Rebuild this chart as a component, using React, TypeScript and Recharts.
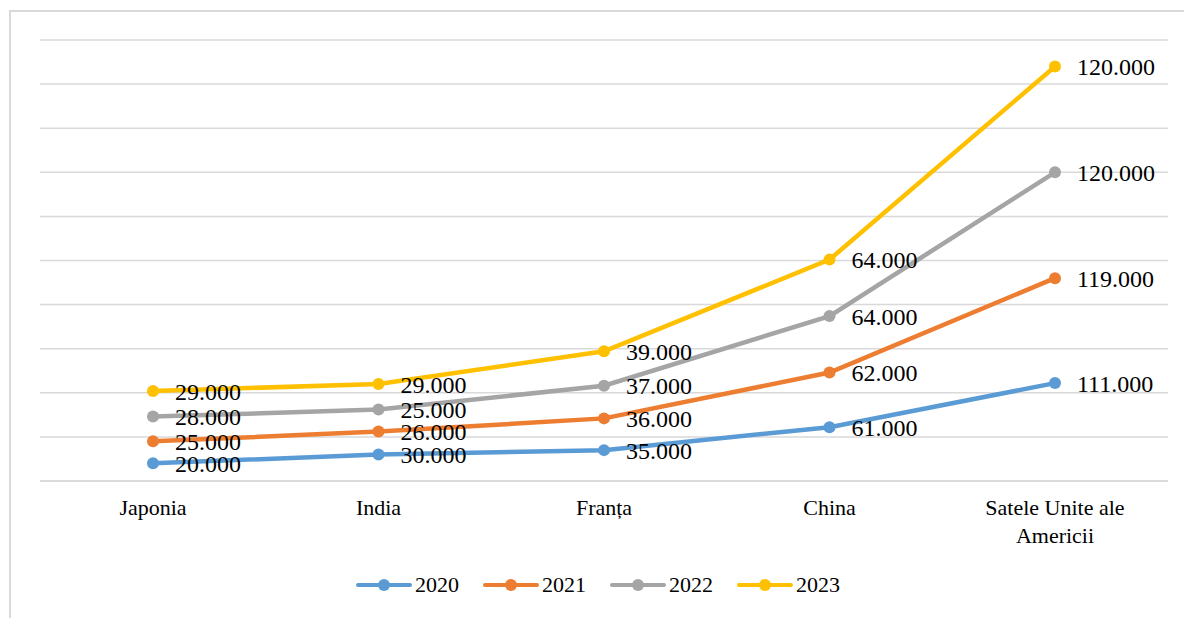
import React from "react";
import {
  LineChart,
  Line,
  XAxis,
  YAxis,
  CartesianGrid,
  Legend,
  LabelList,
} from "recharts";

const countries = ["Japonia", "India", "Franța", "China", "Satele Unite ale Americii"];
const years = ["2020", "2021", "2022", "2023"];
const values2020 = [20000, 30000, 35000, 61000, 111000];
const values2021 = [25000, 26000, 36000, 62000, 119000];
const values2022 = [28000, 25000, 37000, 64000, 120000];
const values2023 = [29000, 29000, 39000, 64000, 120000];
const yTicks = [0, 50000, 100000, 150000, 200000, 250000, 300000, 350000, 400000, 450000, 500000];

const colors = ["#5B9BD5", "#ED7D31", "#A5A5A5", "#FFC000"];
const seriesValues = [values2020, values2021, values2022, values2023];
const FONT = '"Liberation Serif", "Times New Roman", serif';

// stacked line chart: lines drawn at cumulative height, labels show own values
const data = countries.map((name, i) => {
  const row: Record<string, string | number> = { name };
  let sum = 0;
  years.forEach((y, k) => {
    sum += seriesValues[k][i];
    row["v" + y] = seriesValues[k][i];
    row["s" + y] = sum;
  });
  return row;
});

const fmt = (v: number) =>
  `${Math.floor(v / 1000)}.${String(v % 1000).padStart(3, "0")}`;

// wrap long category names like Excel does
const wrap = (s: string, max = 17) => {
  const lines: string[] = [];
  let cur = "";
  s.split(" ").forEach((w) => {
    const next = cur ? cur + " " + w : w;
    if (next.length > max && cur) {
      lines.push(cur);
      cur = w;
    } else cur = next;
  });
  if (cur) lines.push(cur);
  return lines;
};

const CategoryTick = (props: any) => {
  const { x, y, payload } = props;
  const lines = wrap(String(payload.value));
  return (
    <text x={x} y={y} textAnchor="middle" fontSize={22} fontFamily={FONT} fill="#000">
      {lines.map((l, i) => (
        <tspan key={i} x={x} y={y + 26 + i * 28}>
          {l}
        </tspan>
      ))}
    </text>
  );
};

const LegendContent = () => (
  <div style={{ display: "flex", justifyContent: "center", fontFamily: FONT, fontSize: 22, color: "#000" }}>
    {years.map((y, k) => (
      <div key={y} style={{ display: "flex", alignItems: "center", marginRight: k < 3 ? 24 : 0 }}>
        <svg width={56} height={14} style={{ marginRight: 3 }}>
          <line x1={2} y1={7} x2={54} y2={7} stroke={colors[k]} strokeWidth={4} strokeLinecap="round" />
          <circle cx={28} cy={7} r={6} fill={colors[k]} />
        </svg>
        <span style={{ fontFamily: FONT, fontSize: 22 }}>{y}</span>
      </div>
    ))}
  </div>
);

export default function App() {
  return (
    <div style={{ position: "absolute", left: 0, top: 0, width: 1184, height: 618, overflow: "hidden", background: "#fff" }}>
      <div
        style={{
          position: "absolute",
          left: 9,
          top: 10,
          width: 1200,
          height: 650,
          border: "2px solid #d9d9d9",
        }}
      />
      <LineChart
        width={1184}
        height={618}
        data={data}
        margin={{ top: 40, right: 16, bottom: 77, left: 40 }}
        style={{ position: "absolute", left: 0, top: 0 }}
      >
        <CartesianGrid horizontal vertical={false} stroke="#d9d9d9" strokeWidth={1.5} />
        <XAxis
          dataKey="name"
          height={60}
          padding={{ left: 113, right: 113 }}
          tickLine={false}
          axisLine={{ stroke: "#d9d9d9", strokeWidth: 1.5 }}
          tick={<CategoryTick />}
          interval={0}
        />
        <YAxis hide domain={[0, 500000]} ticks={yTicks} />
        <Legend
          layout="horizontal"
          verticalAlign="middle"
          align="center"
          content={<LegendContent />}
          wrapperStyle={{ position: "absolute", top: 572, left: 6, width: 1184 }}
        />
        {years.map((y, k) => (
          <Line
            key={y}
            type="linear"
            dataKey={"s" + y}
            name={y}
            stroke={colors[k]}
            strokeWidth={4.5}
            dot={{ r: 6, fill: colors[k], stroke: colors[k], strokeWidth: 0 }}
            isAnimationActive={false}
          >
            <LabelList
              dataKey={"v" + y}
              position="right"
              offset={22}
              formatter={(v: any) => fmt(Number(v))}
              style={{ fontFamily: FONT, fontSize: 24, fill: "#000" }}
            />
          </Line>
        ))}
      </LineChart>
    </div>
  );
}
